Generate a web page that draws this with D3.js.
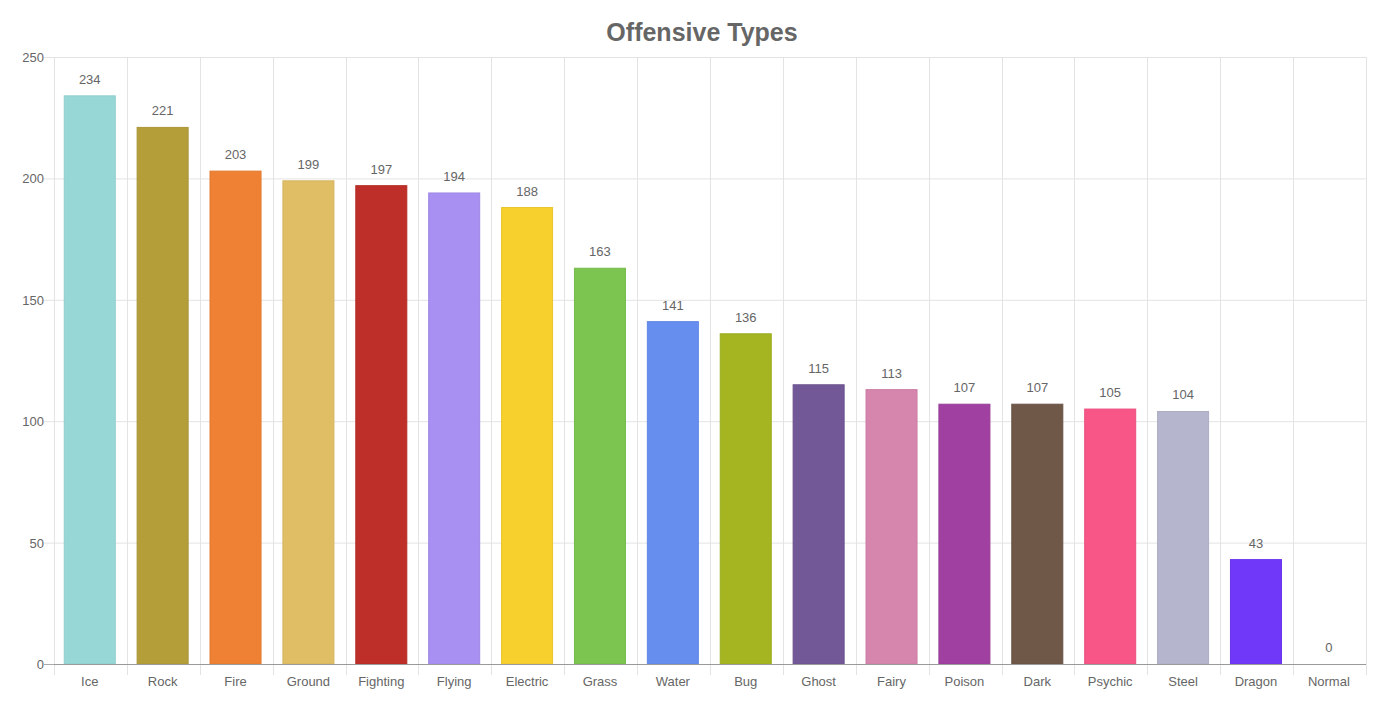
<!DOCTYPE html>
<html><head><meta charset="utf-8">
<script src="https://cdn.jsdelivr.net/npm/d3@7"></script>
<style>body{margin:0;background:#fff;font-family:"Liberation Sans",Arial,Helvetica,sans-serif;}</style>
</head><body>
<svg id="c" width="1400" height="721"></svg>
<script>
const categories = ["Ice","Rock","Fire","Ground","Fighting","Flying","Electric","Grass","Water","Bug","Ghost","Fairy","Poison","Dark","Psychic","Steel","Dragon","Normal"];
const values = [234,221,203,199,197,194,188,163,141,136,115,113,107,107,105,104,43,0];
const colors = ["#97D8D6","#B39E3A","#EE8133","#E0BE66","#BE2F29","#A890F2","#F7D02E","#7BC550","#658EEF","#A4B521","#725896","#D685AD","#A040A0","#6F5848","#F75687","#B5B5CE","#7038F8","#A8A878"];
const yTicks = [0,50,100,150,200,250];
const title = "Offensive Types";

const svg = d3.select("#c");
const m = {left:54, right:1366, top:57, bottom:664};
const x = d3.scaleBand().domain(categories).range([m.left,m.right]).paddingInner(0).paddingOuter(0);
const y = d3.scaleLinear().domain([0,250]).range([m.bottom,m.top]);

svg.append("text").attr("x",702).attr("y",41).attr("text-anchor","middle")
  .attr("font-size",25).attr("font-weight","bold").attr("fill","#666").text(title);

// horizontal grid
svg.append("g").selectAll("line").data(yTicks.filter(d=>d>0)).join("line")
  .attr("x1",m.left).attr("x2",m.right).attr("y1",d=>y(d)+0.5).attr("y2",d=>y(d)+0.5)
  .attr("stroke","#e3e3e3").attr("stroke-width",1);
// vertical grid
const bounds = categories.map(c=>x(c)).concat([m.right]);
svg.append("g").selectAll("line").data(bounds).join("line")
  .attr("x1",d=>Math.round(d)+0.5).attr("x2",d=>Math.round(d)+0.5).attr("y1",m.top).attr("y2",m.bottom+11)
  .attr("stroke","#e3e3e3").attr("stroke-width",1);
// y tick marks
svg.append("g").selectAll("line").data(yTicks).join("line")
  .attr("x1",m.left-10).attr("x2",m.left).attr("y1",d=>y(d)+0.5).attr("y2",d=>y(d)+0.5)
  .attr("stroke",d=>d===0?"#aaa":"#e3e3e3");
svg.append("g").selectAll("text").data(yTicks).join("text")
  .attr("x",m.left-10).attr("y",d=>y(d)+5).attr("text-anchor","end")
  .attr("font-size",13).attr("fill","#666").text(d=>d);

// bars
const bw = x.bandwidth()*0.70;
svg.append("g").selectAll("rect").data(values).join("rect")
  .attr("x",(d,i)=>x(categories[i])+(x.bandwidth()-bw)/2-0.7)
  .attr("y",d=>y(d)).attr("width",bw).attr("height",d=>y(0)-y(d))
  .attr("fill",(d,i)=>colors[i])
  .attr("stroke",(d,i)=>d3.color(colors[i]).darker(0.15))
  .attr("stroke-width",d=>d>0?1:0);

// axis line
svg.append("line").attr("x1",m.left).attr("x2",m.right).attr("y1",m.bottom+0.5).attr("y2",m.bottom+0.5)
  .attr("stroke","#999").attr("stroke-width",1);

// value labels
svg.append("g").selectAll("text").data(values).join("text")
  .attr("x",(d,i)=>x(categories[i])+x.bandwidth()/2-0.7).attr("y",d=>y(d)-12)
  .attr("text-anchor","middle").attr("font-size",13).attr("fill","#666").text(d=>d);

// category labels
svg.append("g").selectAll("text").data(categories).join("text")
  .attr("x",d=>x(d)+x.bandwidth()/2-0.7).attr("y",686)
  .attr("text-anchor","middle").attr("font-size",13).attr("fill","#666").text(d=>d);
</script>
</body></html>
